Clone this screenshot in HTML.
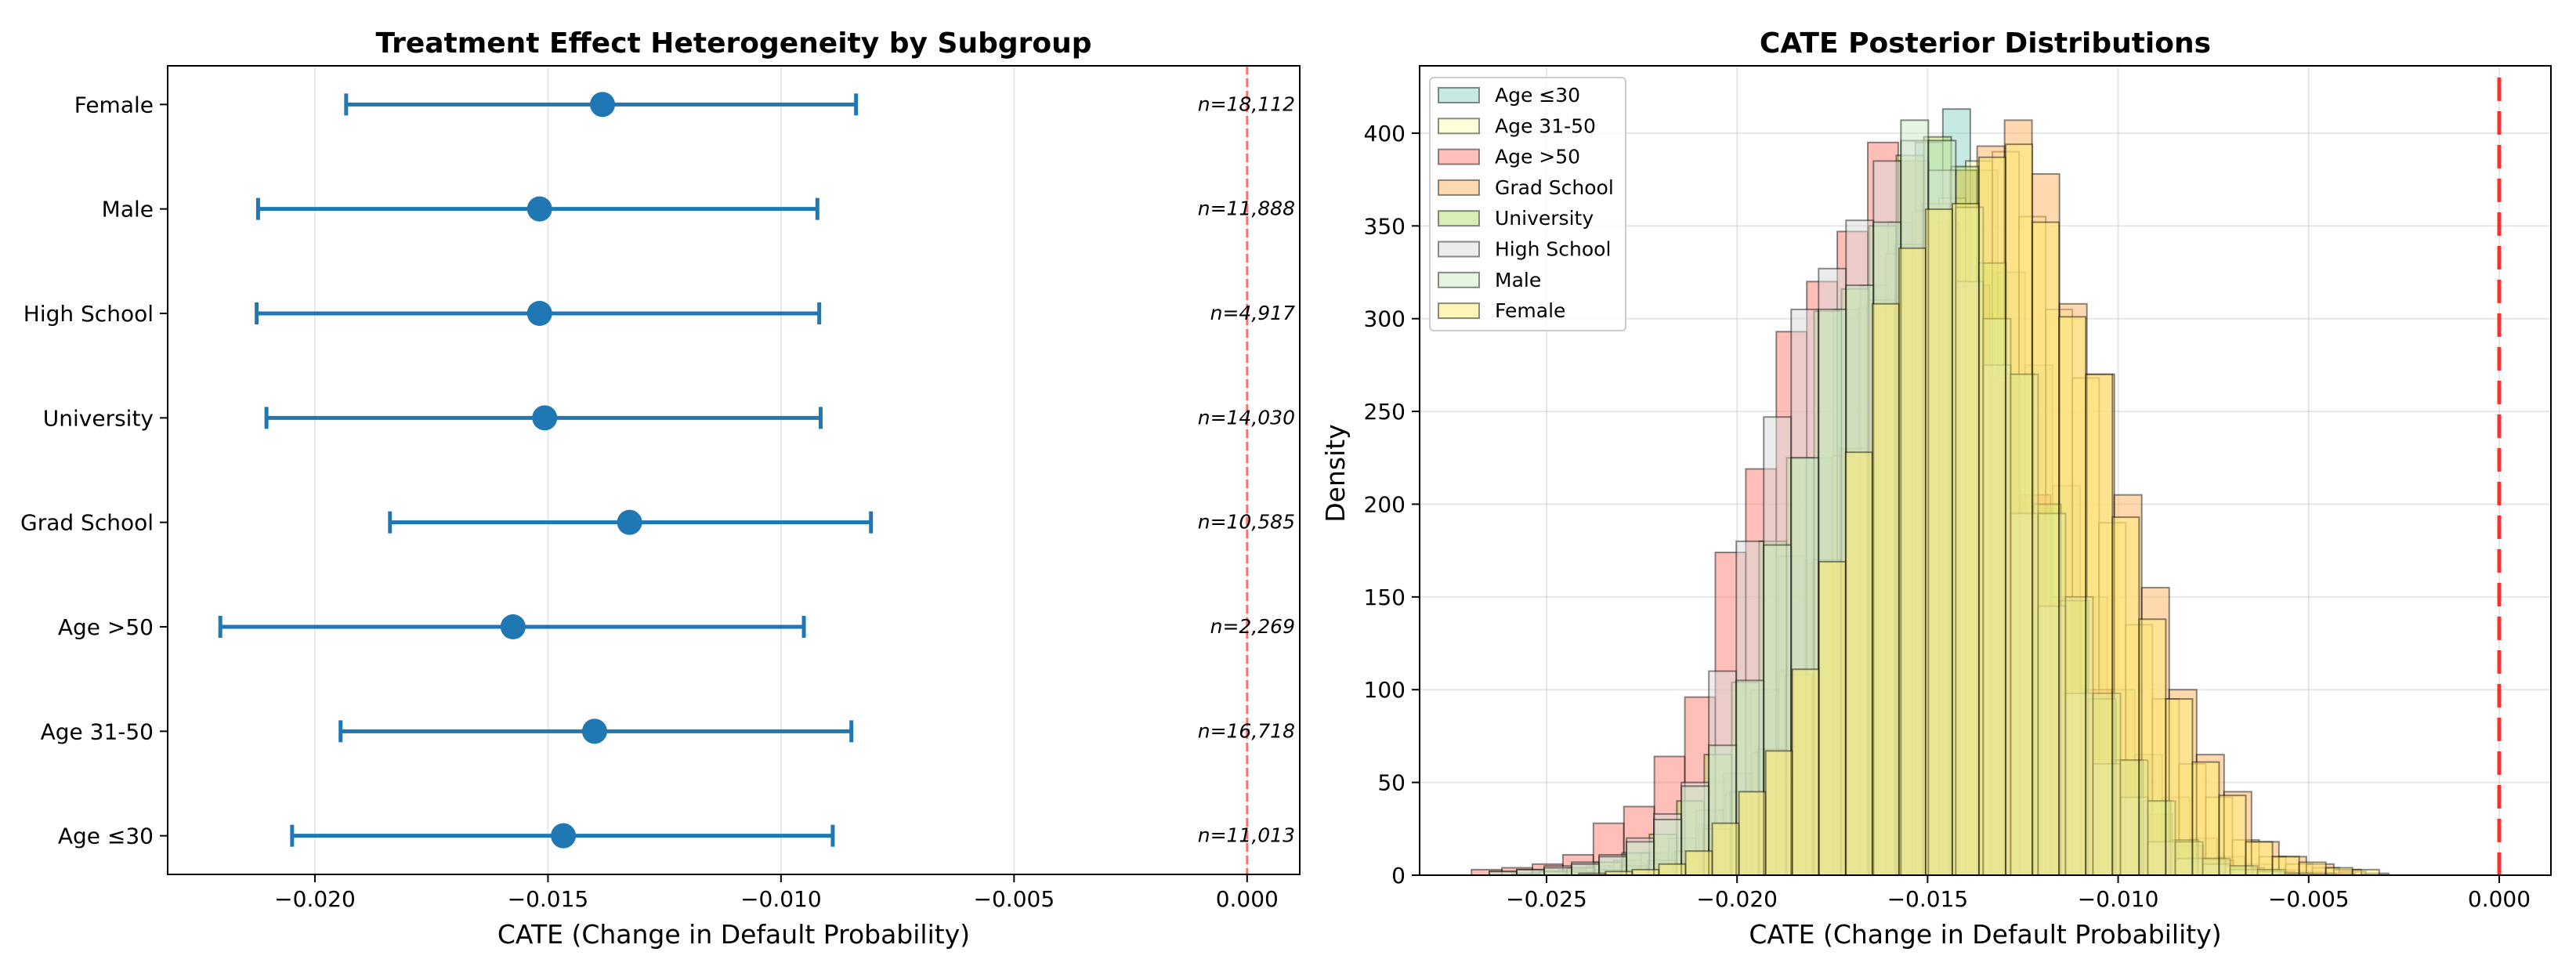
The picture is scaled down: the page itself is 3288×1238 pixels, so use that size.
<!DOCTYPE html>
<html><head><meta charset="utf-8"><style>
html,body{margin:0;padding:0;background:#fff;}
svg{display:block;font-family:"DejaVu Sans","Liberation Sans",sans-serif;}
</style></head><body>
<svg id="fig" width="3288" height="1238" viewBox="0 0 3288 1238" xmlns="http://www.w3.org/2000/svg">
<rect width="3288" height="1238" fill="#fff"/>
<g id="left"></g>
<g id="right"></g>
</svg>
<script>
// ---- Left chart data ----
const subgroups = ["Age ≤30","Age 31-50","Age >50","Grad School","University","High School","Male","Female"];
const cateMean = [-0.01467,-0.0140,-0.01575,-0.01325,-0.01507,-0.01518,-0.01518,-0.01383];
const ciLow = [-0.02049,-0.01945,-0.02203,-0.01839,-0.02104,-0.02125,-0.02122,-0.01933];
const ciHigh = [-0.00889,-0.00849,-0.00951,-0.00807,-0.00915,-0.00918,-0.00922,-0.00839];
const sampleSizes = ["n=11,013","n=16,718","n=2,269","n=10,585","n=14,030","n=4,917","n=11,888","n=18,112"];
const leftTicks = [-0.020,-0.015,-0.010,-0.005,0.000];
const leftTickLabels = ["−0.020","−0.015","−0.010","−0.005","0.000"];

// ---- Right chart data ----
const histNames = ["Age ≤30","Age 31-50","Age >50","Grad School","University","High School","Male","Female"];
const histColors = ["#8dd3c7","#ffffb3","#fb8072","#fdb462","#b3de69","#d9d9d9","#ccebc5","#ffed6f"];
const histStart = [-0.0254,-0.0245,-0.02697,-0.0245,-0.0259,-0.0265,-0.0265,-0.02415];
const histWidth = [0.00072,0.0007,0.0008,0.00072,0.00072,0.00072,0.00072,0.0007];
const countsAge30 = [2,3,5,8,12,20,35,55,100,172,225,305,318,352,395,413,380,325,275,210,150,100,65,42,20,10,6,3,2,1];
const countsAge3150 = [1,2,3,6,12,27,44,66,110,168,226,306,335,358,365,385,390,355,305,268,190,135,95,60,42,19,10,6,4,2];
const countsAge50 = [3,4,6,11,28,37,64,96,174,219,293,320,347,395,385,352,318,268,205,150,100,62,33,16,8,4,2,1,1,0];
const countsGrad = [2,3,5,8,13,25,45,68,108,170,230,310,340,362,380,393,407,378,308,270,205,155,100,65,45,18,10,6,3,1];
const countsUniv = [1,2,4,7,12,22,40,65,104,180,225,304,316,350,388,398,382,330,270,200,148,95,62,40,19,9,5,3,1,1];
const countsHigh = [2,3,5,7,11,20,33,50,110,180,247,305,327,353,385,396,380,320,275,195,145,98,60,42,18,9,6,3,2,1];
const countsMale = [2,3,4,6,10,18,30,48,70,105,178,225,305,318,352,407,396,360,300,270,195,150,98,62,40,18,9,5,3,1];
const countsFemale = [1,2,3,6,13,28,45,67,111,169,228,308,338,359,362,387,394,352,301,270,193,138,95,61,43,18,10,7,4,3];
const histCounts = [countsAge30,countsAge3150,countsAge50,countsGrad,countsUniv,countsHigh,countsMale,countsFemale];
const rightXTicks = [-0.025,-0.020,-0.015,-0.010,-0.005,0.000];
const rightXTickLabels = ["−0.025","−0.020","−0.015","−0.010","−0.005","0.000"];
const rightYTicks = [0,50,100,150,200,250,300,350,400];

const NS="http://www.w3.org/2000/svg";
function mk(parent,tag,attrs,text){const e=document.createElementNS(NS,tag);for(const k in attrs)e.setAttribute(k,attrs[k]);if(text!==undefined)e.textContent=text;parent.appendChild(e);return e;}

// ===== Left =====
(function(){
const g=document.getElementById('left');
const L=214,R=1659,T=84,B=1116;
const xmin=-0.02316,xmax=0.00113,ymin=-0.37,ymax=7.37;
const X=v=>L+(v-xmin)/(xmax-xmin)*(R-L);
const Y=v=>B-(v-ymin)/(ymax-ymin)*(B-T);
leftTicks.forEach((t,i)=>{
  const gl=mk(g,'line',{x1:X(t),x2:X(t),y1:T,y2:B,stroke:'#b0b0b0','stroke-opacity':0.3,'stroke-width':2});
  
  
  const tk=mk(g,'line',{x1:X(t),x2:X(t),y1:B,y2:B+10,stroke:'#000','stroke-width':2});
  
  
  const tl=mk(g,'text',{x:X(t),y:1157,'font-size':28,'text-anchor':'middle'},leftTickLabels[i]);
  
  
});
const zl=mk(g,'line',{x1:X(0),x2:X(0),y1:T,y2:B,stroke:'red','stroke-opacity':0.5,'stroke-width':3,'stroke-dasharray':'11,5'});


subgroups.forEach((s,i)=>{
  const y=Y(i);
  const tk=mk(g,'line',{x1:L-10,x2:L,y1:y,y2:y,stroke:'#000','stroke-width':2});
  
  
  const tl=mk(g,'text',{x:L-18,y:y+10,'font-size':28,'text-anchor':'end'},s);
  
  
  const eb=mk(g,'g',{});
  
  
  mk(eb,'line',{x1:X(ciLow[i]),x2:X(ciHigh[i]),y1:y,y2:y,stroke:'#1f77b4','stroke-width':5});
  mk(eb,'line',{x1:X(ciLow[i]),x2:X(ciLow[i]),y1:y-14,y2:y+14,stroke:'#1f77b4','stroke-width':5});
  mk(eb,'line',{x1:X(ciHigh[i]),x2:X(ciHigh[i]),y1:y-14,y2:y+14,stroke:'#1f77b4','stroke-width':5});
  const pt=mk(g,'circle',{cx:X(cateMean[i]),cy:y,r:16,fill:'#1f77b4'});
  
  
  const nl=mk(g,'text',{x:1653,y:y+8,'font-size':25,'font-style':'italic','text-anchor':'end'},sampleSizes[i]);
  
  
});
const fr=mk(g,'rect',{x:L,y:T,width:R-L,height:B-T,fill:'none',stroke:'#000','stroke-width':2});


const ti=mk(g,'text',{x:(L+R)/2,y:67,'font-size':36,'font-weight':'bold','text-anchor':'middle'},'Treatment Effect Heterogeneity by Subgroup');


const xl=mk(g,'text',{x:(L+R)/2,y:1204,'font-size':33,'text-anchor':'middle'},'CATE (Change in Default Probability)');


})();

// ===== Right =====
(function(){
const g=document.getElementById('right');
const L=1812,R=3256,T=84,B=1117;
const xmin=-0.02833,xmax=0.001357,ymin=0,ymax=436.3;
const X=v=>L+(v-xmin)/(xmax-xmin)*(R-L);
const Y=v=>B-(v-ymin)/(ymax-ymin)*(B-T);
rightXTicks.forEach((t,i)=>{
  const gl=mk(g,'line',{x1:X(t),x2:X(t),y1:T,y2:B,stroke:'#b0b0b0','stroke-opacity':0.3,'stroke-width':2});
  
  
  const tk=mk(g,'line',{x1:X(t),x2:X(t),y1:B,y2:B+10,stroke:'#000','stroke-width':2});
  
  
  const tl=mk(g,'text',{x:X(t),y:1157,'font-size':28,'text-anchor':'middle'},rightXTickLabels[i]);
  
  
});
rightYTicks.forEach(t=>{
  const gl=mk(g,'line',{x1:L,x2:R,y1:Y(t),y2:Y(t),stroke:'#b0b0b0','stroke-opacity':0.3,'stroke-width':2});
  
  
  const tk=mk(g,'line',{x1:L-10,x2:L,y1:Y(t),y2:Y(t),stroke:'#000','stroke-width':2});
  
  
  const tl=mk(g,'text',{x:L-18,y:Y(t)+10,'font-size':28,'text-anchor':'end'},String(t));
  
  
});
histCounts.forEach((arr,si)=>{
  const sg=mk(g,'g',{});
  
  
  arr.forEach((c,k)=>{
    if(c<=0)return;
    const x0=histStart[si]+k*histWidth[si], x1=x0+histWidth[si];
    const b=mk(sg,'rect',{x:X(x0),y:Y(c),width:X(x1)-X(x0),height:Y(0)-Y(c),fill:histColors[si],'fill-opacity':0.5,stroke:'#000','stroke-opacity':0.45,'stroke-width':2});
    
    
  });
});
const zl=mk(g,'line',{x1:X(0),x2:X(0),y1:Y(430),y2:B,stroke:'red','stroke-opacity':0.8,'stroke-width':5,'stroke-dasharray':'30,13'});


const fr=mk(g,'rect',{x:L,y:T,width:R-L,height:B-T,fill:'none',stroke:'#000','stroke-width':2});


// legend
const lg=mk(g,'g',{});


mk(lg,'rect',{x:1825,y:99,width:250,height:323,rx:5,fill:'#fff','fill-opacity':0.8,stroke:'#ccc','stroke-width':2});
histNames.forEach((n,i)=>{
  const cy=121+i*39.3;
  const e=mk(lg,'g',{});
  
  
  mk(e,'rect',{x:1836,y:cy-9,width:52,height:19,fill:histColors[i],'fill-opacity':0.5,stroke:'#000','stroke-opacity':0.45,'stroke-width':2});
  mk(e,'text',{x:1908,y:cy+9,'font-size':25},n);
});
const ti=mk(g,'text',{x:(L+R)/2,y:67,'font-size':36,'font-weight':'bold','text-anchor':'middle'},'CATE Posterior Distributions');


const xl=mk(g,'text',{x:(L+R)/2,y:1204,'font-size':33,'text-anchor':'middle'},'CATE (Change in Default Probability)');


const yl=mk(g,'text',{x:0,y:0,'font-size':33,'text-anchor':'middle',transform:'translate(1716,604) rotate(-90)'},'Density');


})();
</script>
</body></html>
